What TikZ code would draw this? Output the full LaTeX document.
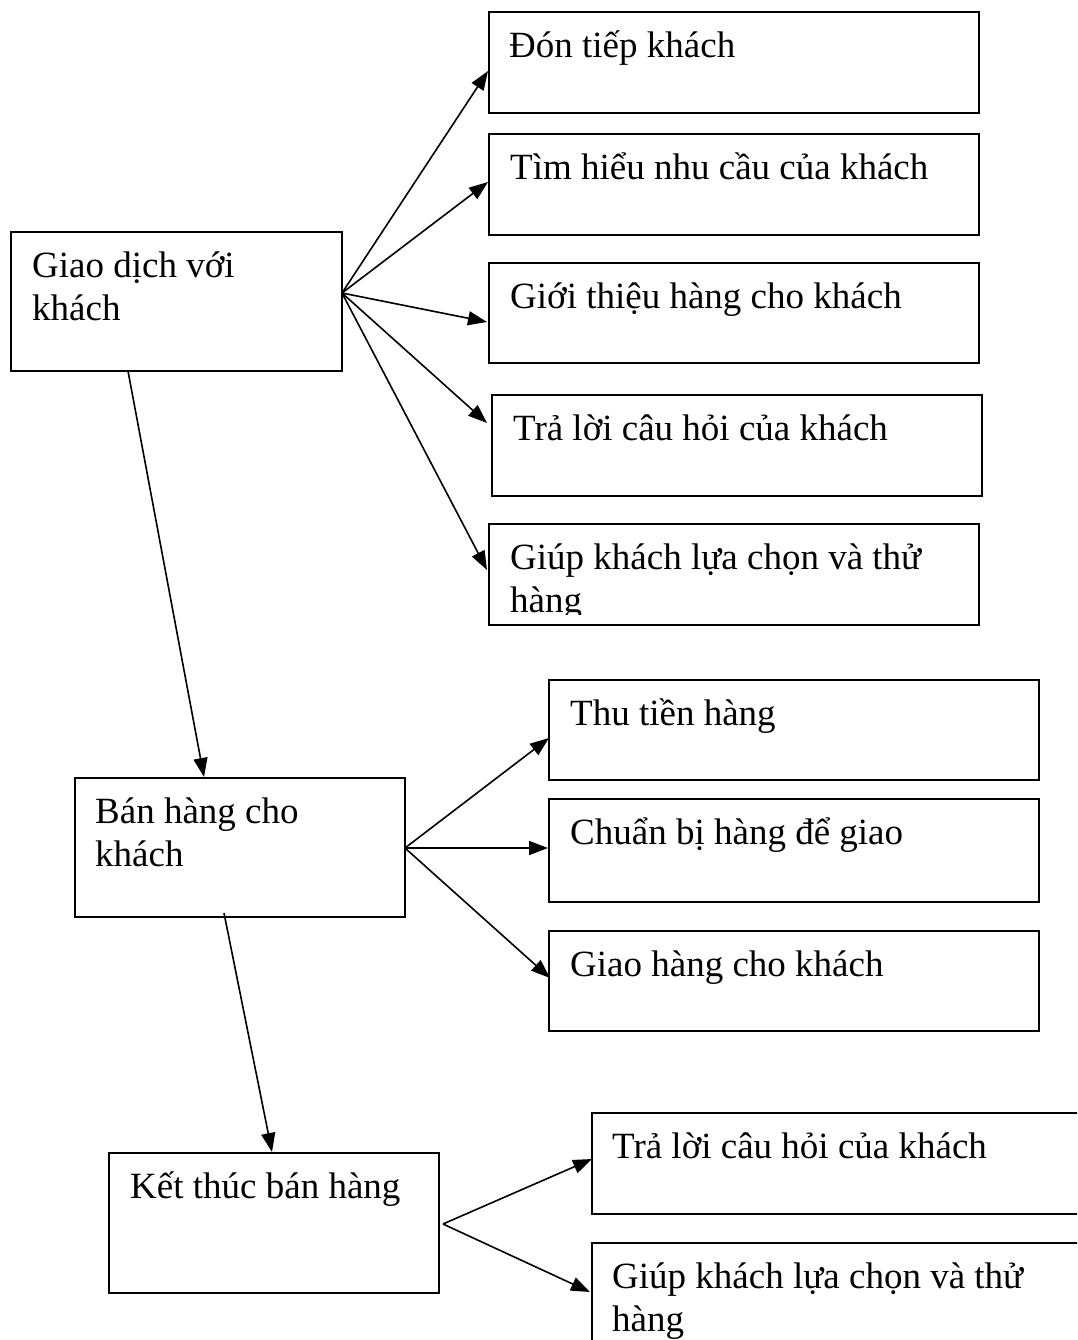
\documentclass[tikz,border=0pt]{standalone}
\usepackage{fontspec}
\setmainfont{Liberation Serif}
\usetikzlibrary{arrows.meta}
\newcommand\bodyfs{\fontsize{37pt}{43pt}\selectfont}
\tikzset{
  box/.style={draw, line width=1.7pt, rectangle, inner sep=0pt, anchor=north west, minimum width=490pt, minimum height=101pt},
  txt/.style={anchor=north west, inner sep=0pt, align=left, font=\bodyfs},
  arr/.style={line width=1.6pt, -{Triangle[length=19pt,width=14pt]}},
}
\newcommand\st{\rule{0pt}{40pt}}
\begin{document}
\begin{tikzpicture}[x=1pt,y=-1pt]
\useasboundingbox (0,0) rectangle (1077,1340);
\clip (0,0) rectangle (1077,1340);
\fill[white] (0,0) rectangle (1077,1340);

% main boxes
\node[box, minimum width=331pt, minimum height=139pt] (A) at (10,231) {};
\node[txt] (tA) at (32,237) {\st Giao dịch với\\khách};
\node[box, minimum width=330pt, minimum height=139pt] (B) at (74,777) {};
\node[txt] (tB) at (95,783) {\st Bán hàng cho\\khách};
\node[box, minimum width=330pt, minimum height=140pt] (C) at (108,1152) {};
\node[txt] (tC) at (130,1158) {\st Kết thúc bán hàng};

% first group
\node[box] (b1) at (488,11) {};
\node[txt] (t1) at (509,17) {\st Đón tiếp khách};
\node[box] (b2) at (488,133) {};
\node[txt] (t2) at (510,139) {\st Tìm hiểu nhu cầu của khách};
\node[box, minimum height=100pt] (b3) at (488,262) {};
\node[txt] (t3) at (510,268) {\st Giới thiệu hàng cho khách};
\node[box] (b4) at (491,394) {};
\node[txt] (t4) at (513,400) {\st Trả lời câu hỏi của khách};
\node[box] (b5) at (488,523) {};
\begin{scope}
\clip (488,523) rectangle (978,614);
\node[txt] (t5) at (510,529) {\st Giúp khách lựa chọn và thử\\hàng};
\end{scope}

% second group
\node[box, minimum height=100pt] (b6) at (548,679) {};
\node[txt] (t6) at (570,685) {\st Thu tiền hàng};
\node[box, minimum height=103pt] (b7) at (548,798) {};
\node[txt] (t7) at (570,804) {\st Chuẩn bị hàng để giao};
\node[box, minimum height=100pt] (b8) at (548,930) {};
\node[txt] (t8) at (570,936) {\st Giao hàng cho khách};

% third group
\node[box] (b9) at (591,1112) {};
\node[txt] (t9) at (612,1118) {\st Trả lời câu hỏi của khách};
\node[box, minimum height=110pt] (b10) at (591,1242) {};
\node[txt] (t10) at (612,1248) {\st Giúp khách lựa chọn và thử\\hàng};

% ports
\coordinate (Ao) at (342,293);
\coordinate (Ad) at (128,371);
\coordinate (Bo) at (405,848);
\coordinate (Bd) at (224,913);
\coordinate (Co) at (443,1224);
\coordinate (i1) at (488,71);
\coordinate (i2) at (488,182);
\coordinate (i3) at (487,322);
\coordinate (i4) at (487,423);
\coordinate (i5) at (487,570);
\coordinate (iB) at (204,777);
\coordinate (i6) at (549,738);
\coordinate (i7) at (548,848);
\coordinate (i8) at (550,978);
\coordinate (iC) at (272,1152);
\coordinate (i9) at (592,1159);
\coordinate (i10) at (590,1292);

\draw[arr] (Ao) -- (i1);
\draw[arr] (Ao) -- (i2);
\draw[arr] (Ao) -- (i3);
\draw[arr] (Ao) -- (i4);
\draw[arr] (Ao) -- (i5);
\draw[arr] (Ad) -- (iB);
\draw[arr] (Bo) -- (i6);
\draw[arr] (Bo) -- (i7);
\draw[arr] (Bo) -- (i8);
\draw[arr] (Bd) -- (iC);
\draw[arr] (Co) -- (i9);
\draw[arr] (Co) -- (i10);
\end{tikzpicture}
\end{document}
